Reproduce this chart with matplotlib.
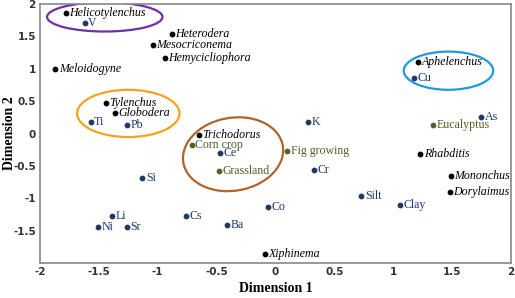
import matplotlib.pyplot as plt
from matplotlib.patches import Ellipse

plt.rcParams['axes.unicode_minus'] = False

# nematode genera (black, italic)
nem_names = ['Helicotylenchus', 'Heterodera', 'Mesocriconema', 'Hemycicliophora',
             'Meloidogyne', 'Tylenchus', 'Globodera', 'Trichodorus', 'Aphelenchus',
             'Rhabditis', 'Mononchus', 'Dorylaimus', 'Xiphinema']
nem_x = [-1.78, -0.88, -1.04, -0.94, -1.87, -1.44, -1.36, -0.65, 1.21, 1.23, 1.49, 1.48, -0.09]
nem_y = [1.86, 1.53, 1.36, 1.16, 0.99, 0.47, 0.32, -0.02, 1.11, -0.32, -0.66, -0.91, -1.86]

# soil elements / texture (navy)
el_names = ['V', 'Ti', 'Pb', 'Ce', 'Si', 'Li', 'Ni', 'Sr', 'Cs', 'Ba', 'Co',
            'Cr', 'Silt', 'Clay', 'K', 'Cu', 'As']
el_x = [-1.62, -1.57, -1.26, -0.47, -1.13, -1.39, -1.51, -1.26, -0.76, -0.41, -0.06,
        0.33, 0.73, 1.06, 0.28, 1.18, 1.75]
el_y = [1.70, 0.18, 0.13, -0.30, -0.68, -1.28, -1.44, -1.44, -1.28, -1.42, -1.14,
        -0.57, -0.96, -1.11, 0.18, 0.86, 0.26]

# land use (olive green)
lu_names = ['Corn crop', 'Grassland', 'Fig growing', 'Eucalyptus']
lu_x = [-0.71, -0.48, 0.10, 1.34]
lu_y = [-0.18, -0.58, -0.27, 0.13]

fig = plt.figure(figsize=(5.15, 2.98), dpi=100)
ax = fig.add_axes([0.0777, 0.1174, 0.9143, 0.8692])

serif = 'Liberation Serif'
navy = '#1f3864'
olive = '#4f6228'

def put(xs, ys, names, color, style):
    ax.scatter(xs, ys, s=10, color=color, zorder=3)
    for x, y, n in zip(xs, ys, names):
        ax.annotate(n, (x, y), xytext=(2.5, 0), textcoords='offset points',
                    va='center', ha='left', fontsize=8.6, color=color,
                    family=serif, style=style)

put(nem_x, nem_y, nem_names, 'black', 'italic')
put(el_x, el_y, el_names, navy, 'normal')
put(lu_x, lu_y, lu_names, olive, 'normal')

# group ellipses
ax.add_patch(Ellipse((-1.45, 1.80), 0.98, 0.45, fill=False, ec='#7030a0', lw=1.6))
ax.add_patch(Ellipse((-1.25, 0.31), 0.87, 0.73, fill=False, ec='#f7a21b', lw=1.6))
ax.add_patch(Ellipse((1.47, 0.97), 0.76, 0.59, fill=False, ec='#1f9ae0', lw=1.6))
ax.add_patch(Ellipse((-0.36, -0.32), 0.84, 1.15, angle=-10, fill=False, ec='#b0642a', lw=1.6))

ax.set_xlim(-2, 2)
ax.set_ylim(-2, 2)
ax.set_xticks([-2, -1.5, -1, -0.5, 0, 0.5, 1, 1.5, 2])
ax.set_yticks([-1.5, -1, -0.5, 0, 0.5, 1, 1.5, 2])
ax.set_xticklabels(['-2', '-1.5', '-1', '-0.5', '0', '0.5', '1', '1.5', '2'])
ax.set_yticklabels(['-1.5', '-1', '-0.5', '0', '0.5', '1', '1.5', '2'])
ax.tick_params(length=0, labelsize=7.5, pad=3)
for lab in ax.get_xticklabels() + ax.get_yticklabels():
    lab.set_fontweight('bold')
    lab.set_color('#333333')
for sp in ax.spines.values():
    sp.set_color('#888888')
    sp.set_linewidth(1.2)

ax.set_xlabel('Dimension 1', family=serif, fontweight='bold', fontsize=10)
ax.set_ylabel('Dimension 2', family=serif, fontweight='bold', fontsize=10)
ax.xaxis.set_label_coords(0.5, -0.075)
ax.yaxis.set_label_coords(-0.052, 0.5)

fig.savefig('out.png', dpi=100)
